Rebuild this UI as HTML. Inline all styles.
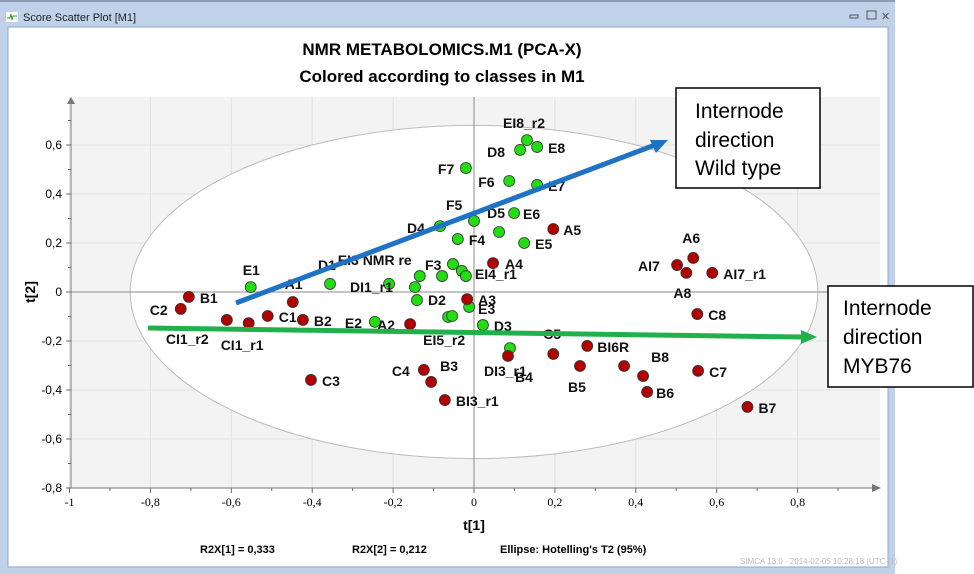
<!DOCTYPE html>
<html><head><meta charset="utf-8">
<style>
body{margin:0;width:974px;height:574px;background:#fff;overflow:hidden;font-family:"Liberation Sans",sans-serif}
svg{position:absolute;left:0;top:0}
</style></head>
<body>
<svg id="chart" width="974" height="574">
  <rect x="0" y="0" width="895" height="574" fill="#bfd2ea"/>
  <rect x="0" y="0" width="895" height="2" fill="#8a9bb3"/>
  <rect x="8" y="27" width="880" height="540" fill="#fff" stroke="#90a6c4"/>
  <g>
    <rect x="6" y="12" width="12" height="10" fill="#fff"/>
    <polyline points="7,18 10,18 11,14 12,20 13,16 17,16" fill="none" stroke="#3a9a3a" stroke-width="1"/>
    <text x="23" y="21" font-size="11" fill="#222">Score Scatter Plot [M1]</text>
    <rect x="850" y="15" width="8" height="3" fill="none" stroke="#555"/>
    <rect x="867" y="11" width="9" height="8" fill="none" stroke="#555"/>
    <text x="881" y="20" font-size="11" fill="#555">✕</text>
  </g>
  <text x="442" y="55" font-size="17" font-weight="bold" text-anchor="middle">NMR METABOLOMICS.M1 (PCA-X)</text>
  <text x="442" y="82" font-size="17" font-weight="bold" text-anchor="middle">Colored according to classes in M1</text>
  <rect x="71" y="97" width="809" height="391" fill="#f3f3f3"/>
  <g id="grid"></g>
  <ellipse id="ell" fill="#fff" stroke="#bbb" stroke-width="1"/>
  <g id="axes"></g>
  <g id="marks"></g>
  <line x1="236" y1="303" x2="655" y2="145" stroke="#1f72c4" stroke-width="5"/>
  <polygon points="668,140 650,140 656,153" fill="#1f72c4"/>
  <line x1="148" y1="328" x2="802" y2="337" stroke="#22b04c" stroke-width="5"/>
  <polygon points="817,337 801,330 801,344" fill="#22b04c"/>
  <g>
    <rect x="676" y="88" width="144" height="100" fill="#fff" stroke="#000" stroke-width="1.5"/>
    <text x="695" y="118" font-size="21">Internode</text>
    <text x="695" y="147" font-size="21">direction</text>
    <text x="695" y="175" font-size="21">Wild type</text>
  </g>
  <g>
    <rect x="828" y="286" width="145" height="101" fill="#fff" stroke="#000" stroke-width="1.5"/>
    <text x="843" y="315" font-size="21">Internode</text>
    <text x="843" y="344" font-size="21">direction</text>
    <text x="843" y="373" font-size="21">MYB76</text>
  </g>
  <text x="474" y="530" font-size="14" font-weight="bold" text-anchor="middle">t[1]</text>
  <text x="0" y="0" transform="translate(35,292) rotate(-90)" font-size="14" font-weight="bold" text-anchor="middle">t[2]</text>
  <text x="200" y="553" font-size="11" font-weight="bold">R2X[1] = 0,333</text>
  <text x="352" y="553" font-size="11" font-weight="bold">R2X[2] = 0,212</text>
  <text x="500" y="553" font-size="11" font-weight="bold">Ellipse: Hotelling's T2 (95%)</text>
  <text x="740" y="564" font-size="8" fill="#bbb">SIMCA 13.0 - 2014-02-05 10:28:18 (UTC+1)</text>
</svg>
<script>
const xTicks=[-1,-0.8,-0.6,-0.4,-0.2,0,0.2,0.4,0.6,0.8];
const xTickLabels=["-1","-0,8","-0,6","-0,4","-0,2","0","0,2","0,4","0,6","0,8"];
const yTicks=[0.6,0.4,0.2,0,-0.2,-0.4,-0.6,-0.8];
const yTickLabels=["0,6","0,4","0,2","0","-0,2","-0,4","-0,6","-0,8"];
const greenNames=["E1","D1","DI1_r1","EI3 NMR re","","D2","F3","","","EI4_r1","D4","F5","F4","D5","E6","E5","E3","EI5_r2","","D3","E2","B4","E8","EI8_r2","D8","F7","F6","E7"];
const greenT1=[-0.552,-0.356,-0.210,-0.134,-0.146,-0.141,-0.079,-0.052,-0.030,-0.020,-0.084,0.000,-0.040,0.062,0.099,0.124,-0.012,-0.064,-0.054,0.022,-0.245,0.089,0.156,0.131,0.114,-0.020,0.087,0.156];
const greenT2=[0.020,0.033,0.033,0.065,0.020,-0.033,0.065,0.114,0.086,0.065,0.269,0.290,0.216,0.245,0.322,0.200,-0.061,-0.102,-0.098,-0.135,-0.122,-0.229,0.592,0.620,0.580,0.506,0.453,0.437];
const greenLabelDx=[-8,-12,-39,-82,0,11,-17,0,0,9,-33,-28,11,-12,9,11,9,-25,0,11,-30,5,11,-24,-33,-28,-31,11];
const greenLabelDy=[-12,-14,8,-11,0,5,-6,0,0,3,7,-11,6,-14,6,6,7,28,0,6,6,34,6,-12,7,6,6,6];
const redNames=["B1","C2","CI1_r2","CI1_r1","C1","A1","B2","C3","A2","A3","A4","A5","C4","B3","BI3_r1","DI3_r1","C5","BI6R","B5","","B8","B6","C7","B7","A6","AI7","A8","AI7_r1","C8"];
const redT1=[-0.705,-0.725,-0.611,-0.557,-0.510,-0.448,-0.423,-0.403,-0.158,-0.017,0.047,0.196,-0.124,-0.106,-0.072,0.084,0.196,0.280,0.262,0.371,0.418,0.428,0.554,0.676,0.542,0.502,0.525,0.589,0.552];
const redT2=[-0.020,-0.069,-0.114,-0.127,-0.098,-0.041,-0.114,-0.359,-0.131,-0.029,0.118,0.257,-0.318,-0.367,-0.441,-0.261,-0.253,-0.220,-0.302,-0.302,-0.343,-0.408,-0.322,-0.469,0.139,0.110,0.078,0.078,-0.090];
const redLabelDx=[11,-31,-61,-28,11,-8,11,11,-33,11,12,10,-32,9,11,-24,-10,10,-12,0,8,9,11,11,-11,-39,-13,11,11];
const redLabelDy=[6,6,24,27,6,-13,6,6,6,6,6,6,6,-11,6,20,-15,6,26,0,-14,6,6,6,-15,6,25,6,6];

const NS="http://www.w3.org/2000/svg";
const X=v=>474+v*404.5, Y=v=>292-v*245;
function mk(tag,attrs,parent){const e=document.createElementNS(NS,tag);for(const k in attrs)e.setAttribute(k,attrs[k]);parent.appendChild(e);return e;}
const grid=document.getElementById('grid'),axes=document.getElementById('axes'),marks=document.getElementById('marks');
xTicks.forEach((t,i)=>{
  const l=mk('line',{x1:X(t),x2:X(t),y1:97,y2:488,stroke:'#e0e0e0'},grid);
  
  
  mk('line',{x1:X(t),x2:X(t),y1:488,y2:493,stroke:'#666'},axes);
  mk('line',{x1:X(t+0.1),x2:X(t+0.1),y1:488,y2:491,stroke:'#666'},axes);
  const tx=mk('text',{x:X(t),y:506,'font-size':12,'text-anchor':'middle','font-family':'Liberation Serif, serif'},axes);
  tx.textContent=xTickLabels[i];
  
  
});
yTicks.forEach((t,i)=>{
  const l=mk('line',{x1:71,x2:880,y1:Y(t),y2:Y(t),stroke:'#e0e0e0'},grid);
  
  
  mk('line',{x1:66,x2:71,y1:Y(t),y2:Y(t),stroke:'#666'},axes);
  mk('line',{x1:68,x2:71,y1:Y(t+0.1),y2:Y(t+0.1),stroke:'#666'},axes);
  const tx=mk('text',{x:62,y:Y(t)+4,'font-size':12,'text-anchor':'end'},axes);
  tx.textContent=yTickLabels[i];
  
  
});
const ell=document.getElementById('ell');
ell.setAttribute('cx',X(0));ell.setAttribute('cy',Y(0));ell.setAttribute('rx',X(0.85)-X(0));ell.setAttribute('ry',Y(0)-Y(0.68));
mk('line',{x1:71,x2:878,y1:Y(0),y2:Y(0),stroke:'#888'},axes);
mk('line',{x1:X(0),x2:X(0),y1:97,y2:488,stroke:'#888'},axes);
mk('line',{x1:71,x2:71,y1:103,y2:488,stroke:'#777'},axes);
mk('line',{x1:71,x2:872,y1:488,y2:488,stroke:'#777'},axes);
mk('polygon',{points:'67,104 75,104 71,97',fill:'#777'},axes);
mk('polygon',{points:'872,484 872,492 881,488',fill:'#777'},axes);
function draw(names,t1,t2,dx,dy,fill,nm){
  names.forEach((n,i)=>{
    const cx=X(t1[i]),cy=Y(t2[i]);
    const c=mk('circle',{cx:cx,cy:cy,r:5.5,fill:fill,stroke:'#333','stroke-width':0.8},marks);
    
    
  });
  names.forEach((n,i)=>{
    if(!n)return;
    const t=mk('text',{x:X(t1[i])+dx[i],y:Y(t2[i])+dy[i],'font-size':14,'font-weight':'bold',fill:'#111'},marks);
    t.textContent=n;
    
    
  });
}
draw(greenNames,greenT1,greenT2,greenLabelDx,greenLabelDy,'#22dd11','green-class');
draw(redNames,redT1,redT2,redLabelDx,redLabelDy,'#b00000','red-class');
</script>
</body></html>
